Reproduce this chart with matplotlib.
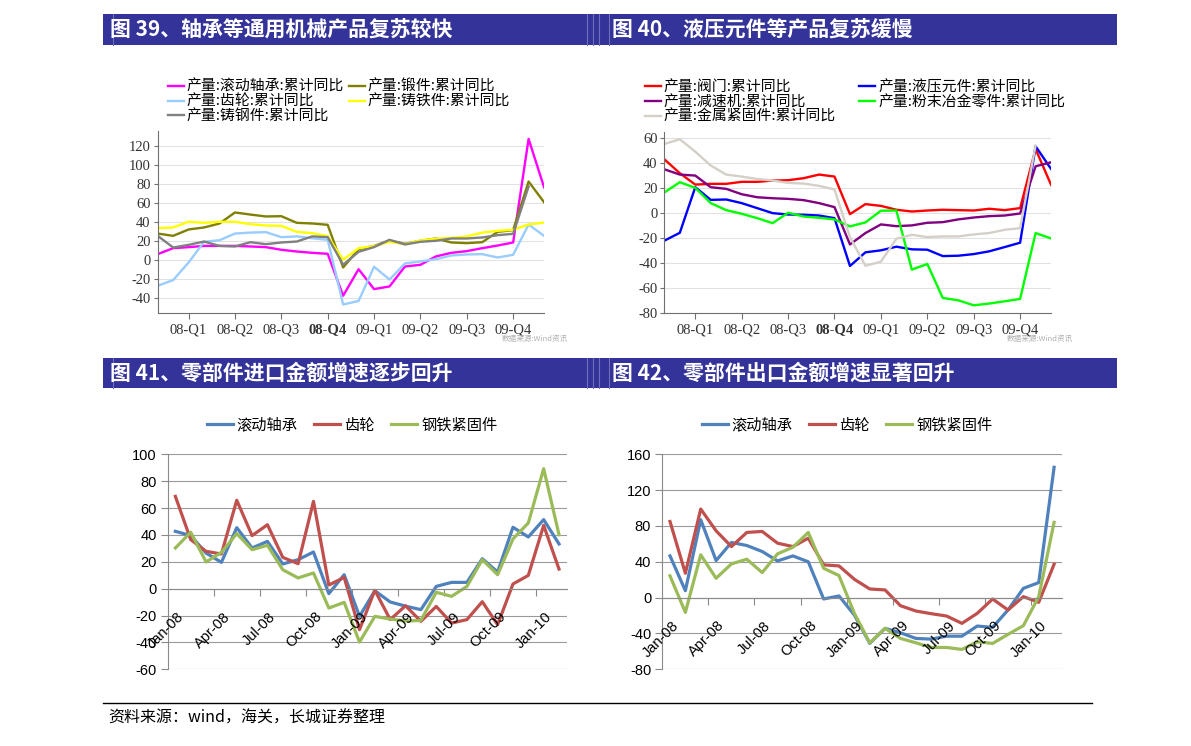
import numpy as np
import matplotlib
matplotlib.use('Agg')
import matplotlib.pyplot as plt
from matplotlib.patches import Rectangle
from matplotlib.lines import Line2D

plt.rcParams['font.family'] = ['Noto Sans CJK SC', 'DejaVu Sans']
plt.rcParams['axes.unicode_minus'] = True

W, H = 1191, 746

# ---- data: fig 39 (monthly, cumulative yoy, Jan-08 .. Feb-10)
quarter_labels = ['08-Q1', '08-Q2', '08-Q3', '08-Q4', '09-Q1', '09-Q2', '09-Q3', '09-Q4']
bearing = [6.3, 12.6, 13.7, 15, 15, 15, 14.4, 13.7, 10.9, 9.1, 7.7, 6.7, -37.5, -9.5,
           -30.5, -27.7, -6.7, -4.9, 3.9, 7.7, 9.5, 12.6, 15.4, 18.6, 127.7, 76.8]
forging = [28, 25.6, 32.3, 34.4, 38.6, 50.2, 48, 46, 46.3, 39.3, 38.6, 37.2, -7.7, 11.6,
           15, 20.7, 17.2, 20.4, 22.8, 18.6, 17.9, 18.9, 29.8, 31.6, 82.8, 61]
gear = [-27, -21, -2.5, 19.3, 21, 28, 29, 29.5, 24.2, 25, 23, 21.4, -46.7, -43,
        -7, -20.4, -3.5, -1.4, 1, 4.9, 6, 6.3, 2.8, 5.6, 37.5, 25.6]
cast_iron = [33.7, 34.4, 40.4, 39.3, 40.4, 40.4, 37.9, 36.5, 36.1, 29.8, 28.4, 25.3, 0.4, 12.6,
             14.7, 19.3, 16.8, 20.7, 22.5, 23.5, 25, 29, 30.9, 32, 37.5, 39.6]
cast_steel = [25.6, 13.3, 16.1, 19.6, 15, 14.4, 18.9, 16.8, 18.6, 19.6, 25, 24.2, -4.9, 8.8,
              13.7, 21.4, 16.5, 19.3, 20.4, 22.8, 22.8, 23.9, 26.3, 27.7, 77.5, np.nan]

# ---- data: fig 40
valve = [43, 31.9, 22.8, 23.4, 23.4, 25, 25, 26, 26.3, 27.9, 30.8, 29.2, -0.8, 7.2,
         5.8, 2.7, 1.3, 2.1, 2.7, 2.4, 2.1, 3.5, 2.4, 4, 51.2, 22.6]
hydraulic = [-22, -15.7, 20.7, 10.6, 10.9, 8, 4, 0, -1.1, -1.3, -1.9, -4, -42.2, -31.3,
             -29.7, -26.8, -28.9, -29.2, -34.3, -34, -32.7, -30.5, -27.1, -23.6, 53.4, 35.3]
reducer = [35, 30.8, 30, 20.7, 19.4, 15.1, 12.7, 11.9, 11.4, 10.4, 8, 4.8, -25, -15.9,
           -9, -10.4, -9.8, -7.7, -7.2, -5, -3.5, -2.4, -1.9, -0.3, 37.4, 40.6]
powder = [16.5, 24.7, 20.2, 8, 2.4, -0.5, -4, -8, 0.3, -2.7, -3.7, -5, -10.6, -7.4,
          1.9, 2.1, -45.1, -40.6, -67.7, -69.6, -73.6, -72.2, -70.4, -68.5, -15.9, -20.2]
fastener = [55.2, 59, 49.1, 38, 30.8, 29.2, 27.3, 26, 24.2, 23.6, 21.8, 18.9, -19.1, -42,
            -38.8, -20.4, -17.3, -19.1, -18.6, -18.6, -17, -15.9, -13.3, -12, 53.9, np.nan]

# ---- data: fig 41 / 42 (import / export growth)
month_labels = ['Jan-08', 'Apr-08', 'Jul-08', 'Oct-08', 'Jan-09', 'Apr-09', 'Jul-09', 'Oct-09', 'Jan-10']
imp_bearing = [42.7, 39.5, 26.5, 19.6, 45.4, 30.3, 35.2, 18.4, 21.6, 27.3, -3.7, 10.4, -20.6,
               -1.5, -9.9, -13, -15.6, 1.7, 4.7, 4.7, 22.3, 12.4, 45.7, 38.5, 51.4, 33.3]
imp_gear = [68.7, 36.5, 27.8, 25.8, 65.8, 39.5, 47.6, 23.3, 18.6, 65, 2.7, 8.4, -30.5,
            -1.2, -23, -12.7, -24.3, -13.2, -25.6, -23, -9.7, -26.8, 3.5, 9.9, 47.1, 14.6]
imp_fastener = [30.3, 42, 19.9, 27, 41, 29, 32.3, 14.1, 8, 11.7, -14.4, -10.2, -39.7,
                -20.6, -22.6, -24.1, -23.6, -2.7, -5.7, 1.7, 21.6, 10.4, 37, 48.9, 89.3, 40.2]
exp_bearing = [46.6, 7.8, 87, 41.4, 61.6, 58.2, 51.5, 41, 46.6, 40, -1.5, 1.9, -19.4,
               -51, -34.3, -39.2, -45.5, -46.3, -43, -43, -31.7, -33.2, -13.8, 10.4, 16.8, 145.5]
exp_gear = [85, 27.2, 98.9, 74.6, 57, 72.8, 73.9, 60.8, 57, 66.4, 36.6, 35.4, 20.5,
            9.7, 8.6, -9, -14.9, -17.9, -20.5, -28.7, -17.5, -1.5, -13.8, 1.1, -5.2, 37.3]
exp_fastener = [24.3, -16.4, 47.8, 21.6, 37.7, 42.9, 28, 48.9, 56.3, 72.8, 32.8, 24.6, -17.5,
                -50.4, -34.3, -45.5, -50.4, -55.6, -55.6, -57.8, -49.3, -51.1, -41, -31.3, 1.1, 84]


def fx(x):
    return x / W


def fy(y):
    return 1 - y / H


fig = plt.figure(figsize=(W / 100, H / 100), dpi=100)

# header bars
for top, bot in [(14.3, 45), (358.3, 388.3)]:
    fig.add_artist(Rectangle((fx(103), fy(bot)), fx(1117) - fx(103), fy(top) - fy(bot),
                             transform=fig.transFigure, facecolor='#333399', edgecolor='none'))
    for lx in [113, 587, 593, 599, 609]:
        fig.add_artist(Line2D([fx(lx), fx(lx)], [fy(bot), fy(top)], transform=fig.transFigure,
                              color='#7070b8', lw=0.8))

titles = [(110, 30, '图 39、轴承等通用机械产品复苏较快'),
          (612, 30, '图 40、液压元件等产品复苏缓慢'),
          (110, 373, '图 41、零部件进口金额增速逐步回升'),
          (612, 373, '图 42、零部件出口金额增速显著回升')]
for tx, ty, t in titles:
    fig.text(fx(tx), fy(ty), t, color='white', fontsize=15, fontweight='bold', va='center', ha='left')


def wind_panel(rect, series, colors, names, order, ylim, yticks, leg_xy, colspace, src_x):
    ax = fig.add_axes(rect)
    x = np.arange(len(series[0]))
    lines = []
    for vals, c, n in zip(series, colors, names):
        ln, = ax.plot(x, vals, color=c, lw=1.7, label=n)
        lines.append(ln)
    ax.set_xlim(0, len(x) - 1)
    ax.set_ylim(*ylim)
    ax.set_yticks(yticks)
    ax.set_yticklabels([str(v) for v in yticks], family=['Liberation Serif'], fontsize=10.5)
    ax.set_xticks(np.arange(2, len(x), 3))
    ax.set_xticklabels(quarter_labels, family=['Liberation Serif'], fontsize=10.5)
    ax.get_xticklabels()[3].set_fontweight('bold')
    ax.yaxis.grid(True, color='#e2e2e2', lw=0.8)
    ax.set_axisbelow(True)
    for s in ['top', 'right']:
        ax.spines[s].set_visible(False)
    for s in ['left', 'bottom']:
        ax.spines[s].set_color('#707070')
    ax.tick_params(axis='both', colors='#707070', labelcolor='#333333', length=3, pad=2)
    ax.tick_params(axis='x', length=4, pad=3)
    ax.legend([lines[i] for i in order], [names[i] for i in order], ncol=2,
              loc='upper left', bbox_to_anchor=(fx(leg_xy[0]), fy(leg_xy[1])),
              bbox_transform=fig.transFigure, frameon=False, fontsize=10.7,
              borderpad=0, borderaxespad=0, handlelength=1.05, handletextpad=0.2,
              labelspacing=0.05, columnspacing=colspace)
    fig.text(fx(src_x), fy(339), '数据来源:Wind资讯', fontsize=5.5, color='#b0b0b0',
             ha='right', va='center')
    return ax


names39 = ['产量:滚动轴承:累计同比', '产量:锻件:累计同比', '产量:齿轮:累计同比',
           '产量:铸铁件:累计同比', '产量:铸钢件:累计同比']
wind_panel([0.1324, 0.58, 0.3244, 0.2444],
           [bearing, forging, gear, cast_iron, cast_steel],
           ['#ff00ff', '#808000', '#99ccff', '#ffff00', '#808080'],
           names39, [0, 2, 4, 1, 3], (-56, 136), list(range(-40, 121, 20)),
           (168, 80), 0.35, 568)

names40 = ['产量:阀门:累计同比', '产量:液压元件:累计同比', '产量:减速机:累计同比',
           '产量:粉末冶金零件:累计同比', '产量:金属紧固件:累计同比']
wind_panel([0.5578, 0.58, 0.3247, 0.2434],
           [valve, hydraulic, reducer, powder, fastener],
           ['#ff0000', '#0000ff', '#800080', '#00ff00', '#d4d0c8'],
           names40, [0, 2, 4, 1, 3], (-80, 65), list(range(-80, 61, 20)),
           (645, 80), 1.6, 1073)


def excel_panel(rect, series, ylim, ystep, leg_cx):
    ax = fig.add_axes(rect)
    x = np.arange(len(series[0]))
    colors = ['#4f81bd', '#c0504d', '#9bbb59']
    names = ['滚动轴承', '齿轮', '钢铁紧固件']
    for vals, c, n in zip(series, colors, names):
        ax.plot(x, vals, color=c, lw=2.3, label=n, solid_joinstyle='round')
    ax.set_xlim(-0.5, len(x) - 0.5)
    ax.set_ylim(*ylim)
    yt = np.arange(ylim[0], ylim[1] + 1, ystep)
    ax.set_yticks(yt)
    ax.set_yticklabels([str(v) for v in yt], family=['Liberation Sans'], fontsize=10.5)
    ax.yaxis.grid(True, color='#9a9a9a', lw=0.8)
    ax.set_axisbelow(True)
    for s in ['top', 'right']:
        ax.spines[s].set_visible(False)
    ax.spines['left'].set_color('#8a8a8a')
    ax.spines['bottom'].set_position(('data', 0))
    ax.spines['bottom'].set_color('#8a8a8a')
    ax.set_xticks(np.arange(2.5, len(x) - 1, 3))
    ax.set_xticklabels([])
    ax.tick_params(axis='both', colors='#8a8a8a', labelcolor='black', length=5, pad=3)
    for i, lab in zip(range(0, len(x), 3), month_labels):
        ax.annotate(lab, xy=(i, 0), xytext=(1, -15), textcoords='offset points',
                    rotation=45, ha='right', va='top', rotation_mode='anchor',
                    family=['Liberation Sans'], fontsize=10.5, zorder=5)
    ax.legend(loc='center', bbox_to_anchor=(fx(leg_cx), fy(425)), bbox_transform=fig.transFigure,
              ncol=3, frameon=False, fontsize=11, handlelength=1.7, handletextpad=0.25,
              columnspacing=1.1, borderpad=0)
    return ax


excel_panel([0.1408, 0.1028, 0.3350, 0.2882], [imp_bearing, imp_gear, imp_fastener],
            (-60, 100), 20, 352)
excel_panel([0.5561, 0.1028, 0.3354, 0.2882], [exp_bearing, exp_gear, exp_fastener],
            (-80, 160), 40, 847)

# source line
fig.add_artist(Line2D([fx(103), fx(1092)], [fy(703), fy(703)], transform=fig.transFigure,
                      color='black', lw=1))
fig.text(fx(108), fy(718), '资料来源：wind，海关，长城证券整理', fontsize=11.5, va='center', ha='left')

fig.savefig('out.png', dpi=100)
